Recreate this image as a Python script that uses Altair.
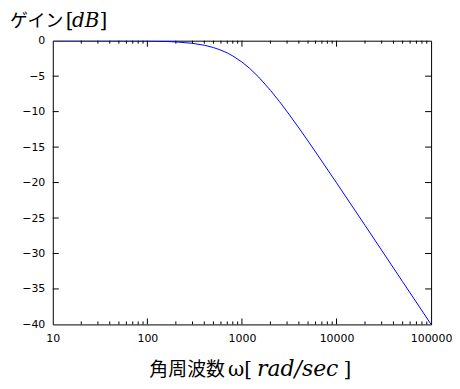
import altair as alt
import pandas as pd

# angular frequency [rad/sec] and gain [dB]
omega = [10, 20, 50, 100, 150, 200, 300, 400, 500, 600, 700, 800, 1000, 1200,
         1500, 2000, 2500, 3000, 4000, 5000, 7000, 10000, 20000, 50000, 100000]
gain = [0.0, 0.0, -0.01, -0.04, -0.10, -0.17, -0.37, -0.64, -0.97, -1.34, -1.73,
        -2.15, -3.01, -3.87, -5.12, -6.99, -8.60, -10.0, -12.3, -14.15, -16.99,
        -20.04, -26.03, -33.98, -40.0]

x_labels = [10, 100, 1000, 10000, 100000]
x_major = [100, 1000, 10000]
x_minor = [m * d for d in [10, 100, 1000, 10000] for m in range(2, 10)]
y_labels = [0, -5, -10, -15, -20, -25, -30, -35, -40]

W, H = 380, 285

df = pd.DataFrame({"w": omega, "g": gain})
xscale = alt.Scale(type="log", domain=[10, 100000], nice=False)
yscale = alt.Scale(domain=[-40, 0], nice=False)
xaxis = alt.Axis(values=x_labels, format="d", ticks=False, domain=False, grid=False,
                 labelPadding=8, labelFontSize=11, labelFont="DejaVu Sans",
                 labelColor="#000000", title=None, labelFlush=False)
yaxis = alt.Axis(values=y_labels, format="d", ticks=False, domain=False, grid=False,
                 labelPadding=8, labelFontSize=11, labelFont="DejaVu Sans",
                 labelColor="#000000", title=None)

X = alt.X("w:Q", scale=xscale, axis=xaxis)
Y = alt.Y("g:Q", scale=yscale, axis=yaxis)

line = alt.Chart(df).mark_line(color="#0000ff", strokeWidth=1, clip=True).encode(x=X, y=Y)

minor_df = pd.DataFrame({"w": x_minor})
major_df = pd.DataFrame({"w": x_major})
ytick_df = pd.DataFrame({"g": y_labels[1:-1]})

tick_style = dict(color="#000000", strokeWidth=1)
layers = [line]
for d, ln in [(minor_df, 3), (major_df, 6)]:
    layers.append(alt.Chart(d).mark_rule(**tick_style).encode(
        x=X, y=alt.value(H), y2=alt.value(H - ln)))
    layers.append(alt.Chart(d).mark_rule(**tick_style).encode(
        x=X, y=alt.value(0), y2=alt.value(ln)))
layers.append(alt.Chart(ytick_df).mark_rule(**tick_style).encode(
    y=Y, x=alt.value(0), x2=alt.value(6)))
layers.append(alt.Chart(ytick_df).mark_rule(**tick_style).encode(
    y=Y, x=alt.value(W), x2=alt.value(W - 6)))


def txt(s, px, py, italic=False, align="left", size=20, font="DejaVu Serif"):
    return alt.Chart(pd.DataFrame({"t": [s]})).mark_text(
        align=align, baseline="alphabetic", fontSize=size, font=font,
        fontStyle="italic" if italic else "normal", color="#000000"
    ).encode(x=alt.value(px), y=alt.value(py), text="t:N")

CJK = "Noto Sans CJK JP"
# y title pieces (plot origin is at page 53,40)
layers += [
    txt("ゲイン", -43, -14, font=CJK, size=18),
    txt("[", 13, -14),
    txt("dB", 33, -14, italic=True, align="center"),
    txt("]", 47, -14),
]
# x title pieces
layers += [
    txt("角周波数", 97, 337, font=CJK, size=19),
    txt("ω[", 200, 337, align="right"),
    txt("rad/sec", 246, 337, italic=True, align="center", size=22),
    txt("]", 292, 337),
]

chart = alt.layer(*layers).properties(
    width=W, height=H,
    autosize=alt.AutoSizeParams(type="none"),
    padding={"left": 45, "top": 32, "right": 21, "bottom": 56},
    background="#ffffff",
).configure_view(stroke="#000000", strokeWidth=1)

chart.save("out.html", embed_options={"renderer": "svg", "actions": False})
